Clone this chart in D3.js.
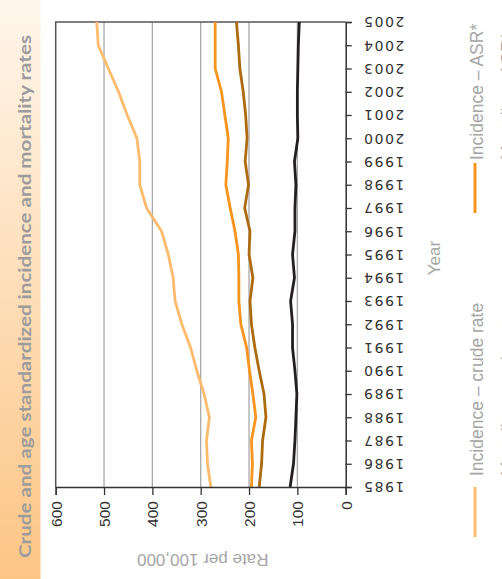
<!DOCTYPE html>
<html>
<head>
<meta charset="utf-8">
<script src="https://cdn.jsdelivr.net/npm/d3@7"></script>
<style>
  html, body { margin: 0; padding: 0; background: #fff; }
  svg { display: block; }
</style>
</head>
<body>
<svg id="chart" width="502" height="579"></svg>
<script>
const years = [1985,1986,1987,1988,1989,1990,1991,1992,1993,1994,1995,1996,1997,1998,1999,2000,2001,2002,2003,2004,2005];
const incidenceCrude = [279,286,288,282,293,308,321,339,353,357,367,381,412,426,426,432,452,470,491,512,515];
const incidenceASR   = [195,193,195,186,192,199,205,217,221,221,222,229,239,248,245,243,250,257,270,270,270];
const mortalityCrude = [179,174,172,165,169,179,188,195,198,192,200,198,209,201,208,204,207,212,219,222,226];
const mortalityASR   = [115,108,105,103,101,105,110,110,114,106,110,105,105,103,106,99,100,100,99,98,96];
const rateTicks = [0,100,200,300,400,500,600];
const seriesNames = ["Incidence \u2013 crude rate","Incidence \u2013 ASR*","Mortality \u2013 crude rate","Mortality \u2013 ASR*"];
const seriesColors = ["#fdbb6e","#f7941d","#ad6a0e","#231f20"];
const titleText = "Crude and age standardized incidence and mortality rates";
const rateLabel = "Rate per 100,000";
const yearLabel = "Year";

const svg = d3.select("#chart");

// gradient band
const defs = svg.append("defs");
const grad = defs.append("linearGradient").attr("id","band").attr("x1",0).attr("y1",0).attr("x2",0).attr("y2",1);
grad.append("stop").attr("offset","0%").attr("stop-color","#fff6ec");
grad.append("stop").attr("offset","100%").attr("stop-color","#fcc584");
svg.append("rect").attr("x",0).attr("y",0).attr("width",40.5).attr("height",579).attr("fill","url(#band)");

svg.append("text")
  .attr("transform","translate(31,558) rotate(-90)")
  .attr("text-anchor","start")
  .attr("textLength",523).attr("lengthAdjust","spacingAndGlyphs")
  .style("font-family","Lato, 'DejaVu Sans', sans-serif")
  .style("font-weight","bold").style("font-size","17.5px")
  .attr("fill","#9c9c9c")
  .text(titleText);

const x = d3.scaleLinear().domain([0,600]).range([345.7,55.7]);
const y = d3.scaleLinear().domain([1985,2005]).range([487,22]);

// gridlines
svg.append("g").selectAll("line").data(rateTicks.filter(d => d>0 && d<600)).join("line")
  .attr("x1", d => x(d)).attr("x2", d => x(d)).attr("y1", y(2005)).attr("y2", y(1985))
  .attr("stroke","#a8a8a8").attr("stroke-width",1.3);

// frame top & left
svg.append("path")
  .attr("d", `M${x(0)},${y(2005)}H${x(600)}V${y(1985)}`)
  .attr("fill","none").attr("stroke","#555").attr("stroke-width",1.5);

// series lines
const allSeries = [incidenceCrude, incidenceASR, mortalityCrude, mortalityASR];
const line = d3.line().x(d => x(d.v)).y(d => y(d.yr));
allSeries.forEach((s, i) => {
  svg.append("path")
    .datum(s.map((v, j) => ({yr: years[j], v})))
    .attr("d", line)
    .attr("fill","none")
    .attr("stroke", seriesColors[i])
    .attr("stroke-width", 2.8)
    .attr("stroke-linejoin","round");
});

// year axis (right)
const yAxis = d3.axisRight(y).tickValues(years).tickFormat(d3.format("d")).tickSize(6).tickPadding(0);
const gy = svg.append("g").attr("transform",`translate(${x(0)},0)`).call(yAxis);
gy.select(".domain").attr("stroke","#333").attr("stroke-width",1.5);
gy.selectAll(".tick line").attr("stroke","#333").attr("stroke-width",1.3);
gy.selectAll(".tick text")
  .attr("x",0).attr("dy",null)
  .attr("transform","translate(17,0) rotate(180)")
  .attr("text-anchor","end")
  .attr("dy","0.36em")
  .style("font-family","'DejaVu Sans', sans-serif")
  .style("font-size","14px")
  .style("letter-spacing","1.5px")
  .attr("fill","#333");

// rate axis (bottom)
const xAxis = d3.axisBottom(x).tickValues(rateTicks).tickSize(8).tickPadding(0);
const gx = svg.append("g").attr("transform",`translate(0,${y(1985)})`).call(xAxis);
gx.select(".domain").attr("stroke","#333").attr("stroke-width",1.5);
gx.selectAll(".tick line").attr("stroke","#333").attr("stroke-width",1.3);
gx.selectAll(".tick text")
  .attr("y",0)
  .attr("transform","translate(0,14) rotate(-90)")
  .attr("text-anchor","end")
  .attr("dy","0.36em")
  .style("font-family","'Liberation Sans', Arial, sans-serif")
  .style("font-size","15.5px")
  .attr("fill","#333");

// axis titles
svg.append("text")
  .attr("transform",`translate(${(x(0)+x(600))/2+2},560) rotate(180)`)
  .attr("text-anchor","middle").attr("dy","0.36em")
  .style("font-family","'Liberation Sans', Arial, sans-serif")
  .style("font-size","17px").attr("fill","#a6a6a6")
  .text(rateLabel);

svg.append("text")
  .attr("transform",`translate(440,258) rotate(-90)`)
  .attr("text-anchor","middle")
  .style("font-family","'Liberation Sans', Arial, sans-serif")
  .style("font-size","17px").attr("fill","#a6a6a6")
  .text(yearLabel);

// legend
const legendPos = [
  {lx:475, ly1:487, ly2:537, tx:483, ty:476},
  {lx:475, ly1:163, ly2:213, tx:483, ty:160},
  {lx:506, ly1:487, ly2:537, tx:514, ty:476},
  {lx:506, ly1:163, ly2:213, tx:514, ty:160}
];
seriesNames.forEach((name, i) => {
  const p = legendPos[i];
  svg.append("line").attr("x1",p.lx).attr("x2",p.lx).attr("y1",p.ly1).attr("y2",p.ly2)
    .attr("stroke",seriesColors[i]).attr("stroke-width",3);
  svg.append("text")
    .attr("transform",`translate(${p.tx},${p.ty}) rotate(-90)`)
    .attr("text-anchor","start")
    .style("font-family","'Liberation Sans', Arial, sans-serif")
    .style("font-size","17.5px").attr("fill","#a6a6a6")
    .text(name);
});
</script>
</body>
</html>
